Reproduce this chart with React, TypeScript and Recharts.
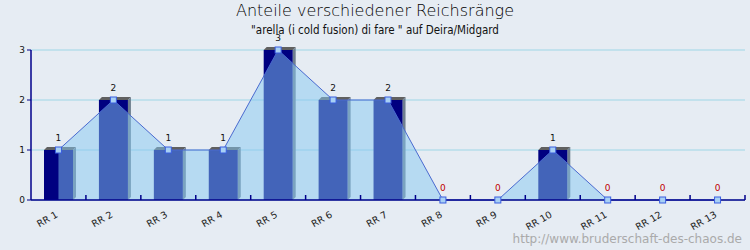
import { ComposedChart, Bar, Area, XAxis, YAxis, CartesianGrid, LabelList } from 'recharts';

const ranks = ['RR 1', 'RR 2', 'RR 3', 'RR 4', 'RR 5', 'RR 6', 'RR 7', 'RR 8', 'RR 9', 'RR 10', 'RR 11', 'RR 12', 'RR 13'];
const counts = [1, 2, 1, 1, 3, 2, 2, 0, 0, 1, 0, 0, 0];
const yTicks = [0, 1, 2, 3];

const data = ranks.map((rank, i) => ({ rank, count: counts[i] }));

const W = 750;
const H = 250;
const M = { top: 50, right: 5, bottom: 0, left: 0 };
const Y_W = 31;
const step = (W - M.left - M.right - Y_W) / ranks.length;
const NAVY = '#00008b';

// 3d bar: navy front, dark top, grey side
const Bar3D = (p: any) => {
  const { x, y, width, height } = p;
  if (!height || height <= 0) return null;
  const d = 3;
  return (
    <g>
      <polygon points={`${x},${y} ${x + d},${y - d} ${x + width + d},${y - d} ${x + width},${y}`} fill="#606060" />
      <polygon points={`${x + width},${y} ${x + width + d},${y - d} ${x + width + d},${y + height - d} ${x + width},${y + height}`} fill="#6f7f8f" />
      <rect x={x} y={y} width={width} height={height} fill="#000080" />
    </g>
  );
};

const XTick = (p: any) => {
  const { x, y, payload } = p;
  const ay = y - 8; // axis line
  const lx = x - 2;
  const ly = ay + 13;
  return (
    <g>
      <line x1={x + step / 2} y1={ay} x2={x + step / 2} y2={ay - 5} stroke={NAVY} strokeWidth={1.5} />
      <text x={lx} y={ly} transform={`rotate(-30 ${lx} ${ly})`} textAnchor="end" dy={4}
        fontSize={9.5} fontFamily="DejaVu Sans" fill="#222">{payload.value}</text>
    </g>
  );
};

const Marker = (p: any) => {
  const { cx, cy, index } = p;
  return <rect key={index} x={cx - 3} y={cy - 3} width={6} height={6} fill="#a8d0f4" stroke="#3a5ee0" strokeWidth={1} />;
};

const ValueLabel = (p: any) => {
  const { x, y, value } = p;
  return (
    <text x={x} y={y - 9} textAnchor="middle" fontSize={9} fontFamily="DejaVu Sans"
      fill={value === 0 ? '#c00000' : '#111'}>{value}</text>
  );
};

export default function App() {
  return (
    <div style={{ position: 'absolute', left: 0, top: 0, width: W, height: H, background: '#e6ecf3', fontFamily: 'DejaVu Sans' }}>
      <div style={{ position: 'absolute', top: 1, width: W, textAlign: 'center', fontSize: 16, fontWeight: 300, color: '#000' }}>
        Anteile verschiedener Reichsränge
      </div>
      <div style={{ position: 'absolute', top: 23, width: W, textAlign: 'center', fontSize: 11.5, fontFamily: 'DejaVu Sans Condensed', color: '#111' }}>
        "arella (i cold fusion) di fare " auf Deira/Midgard
      </div>
      <ComposedChart width={W} height={H} data={data} margin={M} style={{ position: 'absolute', left: 0, top: 0 }}>
        <CartesianGrid vertical={false} stroke="#9ed6e6" strokeWidth={1} />
        <XAxis dataKey="rank" height={50} axisLine={{ stroke: NAVY, strokeWidth: 1.5 }} tickLine={false} tick={XTick} interval={0} />
        <YAxis width={Y_W} domain={[0, 3]} ticks={yTicks} axisLine={{ stroke: NAVY, strokeWidth: 1.5 }}
          tickLine={{ stroke: NAVY }} tickSize={4} tick={{ fontSize: 9, fill: '#111', fontFamily: 'DejaVu Sans' }} />
        <Bar dataKey="count" barSize={29} shape={Bar3D} isAnimationActive={false} />
        <Area dataKey="count" type="linear" stroke="#4a6ad0" strokeWidth={1} fill="#86c8f2" fillOpacity={0.5}
          dot={Marker} activeDot={false} isAnimationActive={false} zIndex={350}>
          <LabelList dataKey="count" content={ValueLabel} />
        </Area>
      </ComposedChart>
      <div style={{ position: 'absolute', right: 8, bottom: 4, fontSize: 12, color: '#aaa' }}>
        http://www.bruderschaft-des-chaos.de
      </div>
    </div>
  );
}
